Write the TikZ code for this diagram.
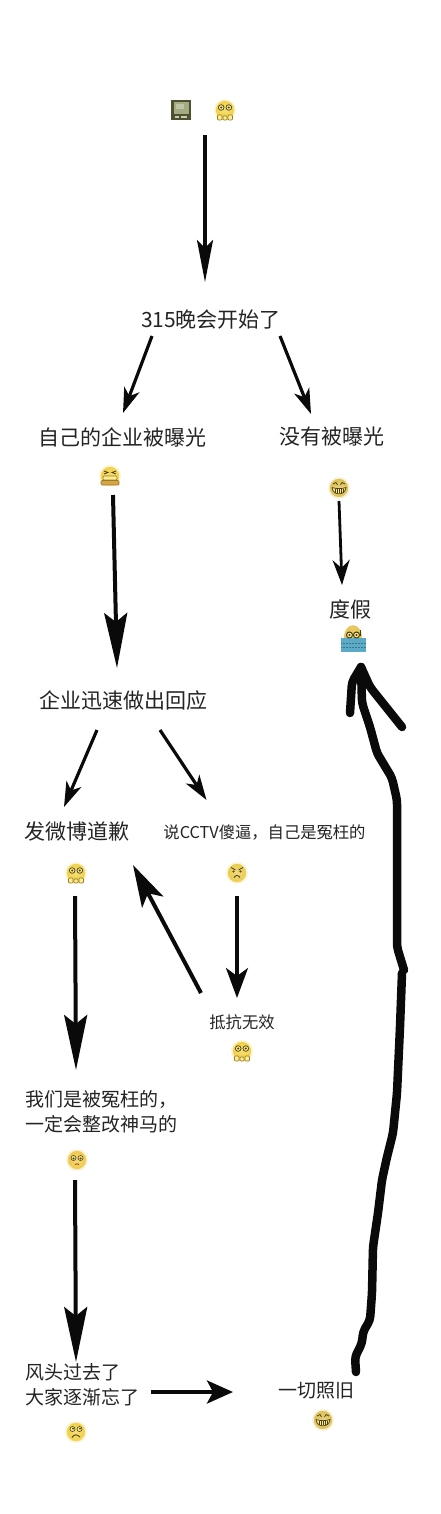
\documentclass[tikz,border=0pt]{standalone}
\usepackage{fontspec}
\setmainfont{Noto Sans CJK SC}
\usetikzlibrary{arrows.meta}
\definecolor{ink}{HTML}{0A0A0A}
\definecolor{txt}{HTML}{242424}
\definecolor{faceA}{HTML}{F0D040}
\definecolor{faceB}{HTML}{DCBE50}
\definecolor{faceC}{HTML}{EACB48}
\definecolor{faceD}{HTML}{EFC845}
\definecolor{K}{HTML}{4A3C18}
\definecolor{Y}{HTML}{FAEE90}
\definecolor{F}{HTML}{EED24E}
\definecolor{B}{HTML}{9A7A30}
\definecolor{R}{HTML}{A04020}
\definecolor{G}{HTML}{E6C860}
\definecolor{W}{HTML}{5AAAC8}
\definecolor{D}{HTML}{4E5030}
\definecolor{S}{HTML}{A5AB80}
\tikzset{
  x=1pt,y=-1pt,
  lab/.style={inner sep=0pt,text=txt,align=left},
  big/.style={lab,font=\fontsize{21}{25}\selectfont},
  mid/.style={lab,font=\fontsize{19}{24.5}\selectfont},
  small/.style={lab,font=\fontsize{16.3}{20}\selectfont},
  face/.style={circle,minimum size=20pt,inner sep=0pt,inner color=#1!70!white,outer color=#1,draw=#1!25!white,line width=1.5pt},
  face/.default={faceA},
  arrS/.style={draw=ink,fill=ink,line width=2.8pt,-{Stealth[length=25pt,width=17pt,inset=8pt]}},
  arrV/.style={draw=ink,fill=ink,line width=3.2pt,-{Stealth[length=30pt,width=22pt,inset=8pt]}},
  arrM/.style={draw=ink,fill=ink,line width=3.2pt,-{Stealth[length=25pt,width=16pt,inset=7pt]}},
  arrL/.style={draw=ink,fill=ink,line width=4pt,-{Stealth[length=55pt,width=23pt,inset=9pt]}},
  arrT/.style={draw=ink,fill=ink,line width=3.5pt,-{Stealth[length=42pt,width=16pt,inset=8pt]}},
  arrB/.style={draw=ink,fill=ink,line width=4pt,-{Stealth[length=42pt,width=24pt,inset=10pt]}},
  arrH/.style={draw=ink,fill=ink,line width=3.5pt,-{Stealth[length=26pt,width=23pt,inset=6pt]}},
  brush/.style={draw=ink,line width=8.5pt,line cap=round,line join=round,rounded corners=4pt},
  pics/skull/.style={code={
    \fill[F] (-8,4) rectangle (8,10);
    \draw[draw=B,fill=Y,line width=.6pt,rounded corners=1pt] (-7.5,5) rectangle (-3,10);
    \draw[draw=B,fill=Y,line width=.6pt,rounded corners=1pt] (-2,6) rectangle (2,10);
    \draw[draw=B,fill=Y,line width=.6pt,rounded corners=1pt] (3,5) rectangle (7.5,10);
    \draw[draw=K,fill=Y,line width=.7pt] (-3.8,-2.5) circle (2.8);
    \draw[draw=K,fill=Y,line width=.7pt] (3.8,-2.5) circle (2.8);
    \fill[K] (-3.8,-2.5) circle (1.1);
    \fill[K] (3.8,-2.5) circle (1.1);
  }},
  pics/grin/.style={code={
    \draw[K,line width=.7pt] (-6,-4) -- (-3,-5.5) -- (-1.5,-3);
    \draw[K,line width=.7pt] (6,-4) -- (3,-5.5) -- (1.5,-3);
    \draw[draw=K,fill=Y,line width=.7pt] (-7,-.5) .. controls (-3,1) and (3,1) .. (7,-.5) .. controls (6,8) and (-6,8) .. (-7,-.5);
    \foreach \u in {-4,-2,0,2,4}{\draw[K,line width=.4pt] (\u,.5) -- (\u,5);}
  }},
  pics/fume/.style={code={
    \draw[K,line width=.8pt] (-6,-5) -- (-2,-3.5) -- (-6,-2);
    \draw[K,line width=.8pt] (6,-5) -- (2,-3.5) -- (6,-2);
    \draw[draw=B,fill=Y,line width=.7pt,rounded corners=1pt] (-7,0) rectangle (7,4);
    \draw[draw=B,fill=F!70!R,line width=.7pt,rounded corners=1pt] (-9,4.5) rectangle (9,9);
  }},
  pics/angry/.style={code={
    \draw[K,line width=.8pt] (-6,-5.5) -- (-1.5,-3);
    \draw[K,line width=.8pt] (6,-5.5) -- (1.5,-3);
    \fill[K] (-3.5,-1.6) circle (1.1);
    \fill[K] (3.5,-1.6) circle (1.1);
    \draw[K,line width=.8pt] (-3,4.5) .. controls (-1,1.8) and (1,1.8) .. (3,4.5);
  }},
  pics/plead/.style={code={
    \draw[draw=K,fill=Y,line width=.6pt] (-3.5,-2) circle (2.5);
    \draw[draw=K,fill=Y,line width=.6pt] (3.5,-2) circle (2.5);
    \fill[K] (-3.5,-1.5) circle (1.2);
    \fill[K] (3.5,-1.5) circle (1.2);
    \draw[draw=R,line width=.8pt] (-2,4.5) .. controls (-1,3.5) and (1,3.5) .. (2,4.5);
  }},
  pics/sadface/.style={code={
    \draw[draw=K,fill=Y,line width=.6pt] (-3.5,-3) circle (2.5);
    \draw[draw=K,fill=Y,line width=.6pt] (3.5,-3) circle (2.5);
    \fill[K] (-3,-3.4) circle (1);
    \fill[K] (4,-3.4) circle (1);
    \draw[K,line width=.9pt] (-4,5.5) .. controls (-2,2) and (1,2) .. (4,5);
  }},
  pics/swimmer/.style={code={
    \fill[G] (-9,-2) .. controls (-9,-19) and (9,-19) .. (9,-2) -- cycle;
    \fill[W] (-12,-2) rectangle (13,12);
    \draw[W!70!black,line width=.5pt,densely dotted] (-12,3) -- (13,3);
    \draw[W!70!black,line width=.5pt,densely dotted] (-12,7) -- (13,7);
    \draw[draw=K,fill=Y,line width=1pt] (-3.5,-5) circle (3);
    \draw[draw=K,fill=Y,line width=1pt] (3.5,-5) circle (3);
    \fill[K] (-3.5,-5) circle (1.1);
    \fill[K] (3.5,-5) circle (1.1);
    \draw[K,line width=1pt] (7,-10) -- (7,-4);
  }},
  pics/telly/.style={code={
    \fill[D] (-10,-10) rectangle (10,10);
    \fill[S] (-7.5,-7.5) rectangle (7.5,4.5);
    \fill[S!70!white] (-5.5,-5.5) rectangle (3,-1);
    \fill[S!60!white] (-6,6.5) rectangle (-2,8.5);
    \fill[S!60!white] (0,6.5) rectangle (6,8.5);
  }},
}
\begin{document}
\begin{tikzpicture}
\useasboundingbox (0,0) rectangle (440,1514);
\fill[white] (0,0) rectangle (440,1514);

% ---- emoji
\node[inner sep=0pt,minimum size=20pt] (tv) at (181,110) {};
\pic at (tv) {telly};
\node[face] (skA) at (225,110) {};
\pic at (skA) {skull};
\node[face] (emSelf) at (110,476) {};
\pic at (emSelf) {fume};
\node[face=faceB] (emNot) at (339,488) {};
\pic at (emNot) {grin};
\node[inner sep=0pt,minimum size=20pt] (emVac) at (353,640) {};
\pic at (emVac) {swimmer};
\node[face] (skB) at (76,873) {};
\pic at (skB) {skull};
\node[face=faceC] (emAng) at (237,873) {};
\pic at (emAng) {angry};
\node[face] (skC) at (242,1051) {};
\pic at (skC) {skull};
\node[face=faceD] (emPlead) at (77,1160) {};
\pic at (emPlead) {plead};
\node[face] (emSad) at (76,1432) {};
\pic at (emSad) {sadface};
\node[face=faceB] (emGrin) at (323,1420) {};
\pic at (emGrin) {grin};

% ---- labels
\node[big] (start) at (211,320) {315晚会开始了};
\node[big] (self) at (122,437) {自己的企业被曝光};
\node[big] (nots) at (332,437) {没有被曝光};
\node[big] (vac) at (350,609) {度假};
\node[big] (resp) at (123,700) {企业迅速做出回应};
\node[big] (weibo) at (77,832) {发微博道歉};
\node[small] (cctv) at (264.5,832) {说CCTV傻逼，自己是冤枉的};
\node[small] (resist) at (242,1022) {抵抗无效};
\node[mid] (wrong) at (101,1112) {我们是被冤枉的，\\一定会整改神马的};
\node[mid] (fade) at (82,1385) {风头过去了\\大家逐渐忘了};
\node[mid] (same) at (316,1391) {一切照旧};

% ---- arrows
\draw[arrT] ([shift={(-20,25)}]skA.center) -- ([shift={(-6,-38)}]start.center);
\draw[arrM] ([shift={(-59,16)}]start.center) -- ([shift={(1,-24)}]self.center);
\draw[arrM] ([shift={(69,16)}]start.center) -- ([shift={(-21,-23)}]nots.center);
\draw[arrL] ([shift={(3,19)}]emSelf.center) -- ([shift={(-6,-32)}]resp.center);
\draw[arrS] ([shift={(0,13)}]emNot.center) -- ([shift={(-8,-24)}]vac.center);
\draw[arrM] ([shift={(-26,30)}]resp.center) -- ([shift={(-13,-25)}]weibo.center);
\draw[arrM] ([shift={(37,30)}]resp.center) -- ([shift={(-58,-32)}]cctv.center);
\draw[arrL] ([shift={(-1,23)}]skB.center) -- ([shift={(-25,-42)}]wrong.center);
\draw[arrV] ([shift={(0,23)}]emAng.center) -- ([shift={(-5,-24)}]resist.center);
\draw[arrB] ([shift={(-41,-29)}]resist.center) -- ([shift={(56,33)}]weibo.center);
\draw[arrL] ([shift={(-2,20)}]emPlead.center) -- ([shift={(-6,-23)}]fade.center);
\draw[arrH] ([shift={(69,7)}]fade.center) -- ([shift={(-83,1)}]same.center);

% ---- hand-drawn arrow from same to the holiday
\coordinate (handA) at (402,973);
\coordinate (handB) at (404,970);
\draw[brush] ([shift={(40,-19)}]same.center) -- (355,1357) -- (362,1343) -- (363,1332) -- (370,1320) -- (372,1293) -- (373,1247) -- (378,1213) -- (382,1180) -- (387,1157) -- (393,1133) -- (397,1093) -- (400,1027) -- (handA);
\draw[brush] (handB) -- (397,947) -- (397,800) -- (392,778) -- (377,753) -- (370,727) -- (362,703) -- ([shift={(8,27)}]emVac.center);
\draw[brush] ([shift={(8,27)}]emVac.center) -- (352,682) -- (350,713);
\draw[brush] ([shift={(8,27)}]emVac.center) -- (370,687) -- (402,727);
\end{tikzpicture}
\end{document}
